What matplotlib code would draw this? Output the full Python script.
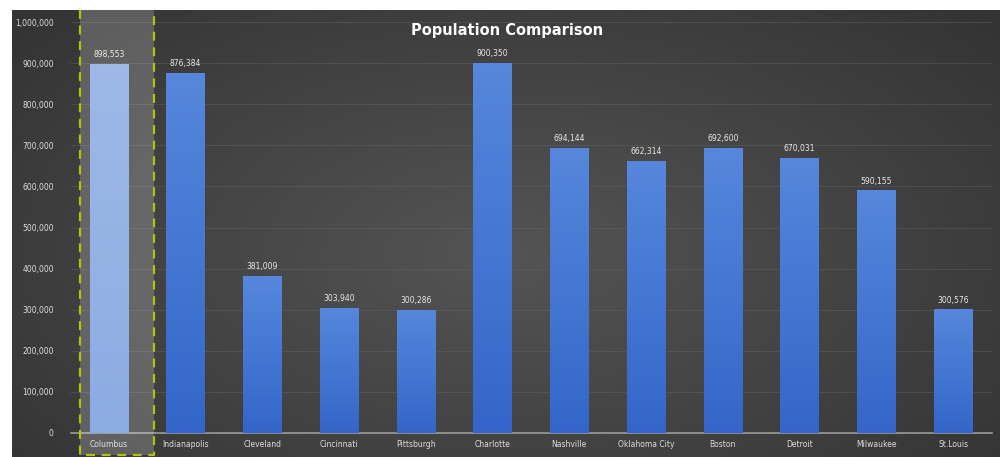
import matplotlib.pyplot as plt
import numpy as np
from matplotlib.colors import LinearSegmentedColormap
from matplotlib.lines import Line2D
from matplotlib.patches import Rectangle
from matplotlib.ticker import FuncFormatter

cities = ["Columbus", "Indianapolis", "Cleveland", "Cincinnati", "Pittsburgh", "Charlotte",
          "Nashville", "Oklahoma City", "Boston", "Detroit", "Milwaukee", "St.Louis"]
population = [898553, 876384, 381009, 303940, 300286, 900350,
              694144, 662314, 692600, 670031, 590155, 300576]
highlight = "Columbus"

W, H = 1008, 457
fig = plt.figure(figsize=(W / 100, H / 100), dpi=100)
fig.patch.set_facecolor("white")

# dark radial gradient behind the chart
bg = fig.add_axes([12 / W, 0, (1000 - 12) / W, (H - 10) / H])
yy, xx = np.mgrid[0:1:200j, 0:1:400j]
r = np.sqrt(((xx - 0.5) * 1.2) ** 2 + ((yy - 0.55) * 1.0) ** 2)
g = np.clip(0.33 - 0.16 * r, 0, 1)
bg.imshow(np.dstack([g, g, g]), aspect="auto", extent=[0, 1, 0, 1])
bg.set_axis_off()

ax = fig.add_axes([70.5 / W, 24 / H, 921 / W, 411 / H])
ax.set_facecolor("none")
x = np.arange(len(cities))
bars = ax.bar(x, population, width=0.5, color="none", zorder=3)

blue = LinearSegmentedColormap.from_list("blue", ["#3466c9", "#5687dc"])
light = LinearSegmentedColormap.from_list("light", ["#6f98dc", "#86a8e2"])
grad = np.linspace(0, 1, 100).reshape(-1, 1)
for c, b, v in zip(cities, bars, population):
    x0 = b.get_x()
    im = ax.imshow(grad, cmap=light if c == highlight else blue, origin="lower",
                   aspect="auto", extent=[x0, x0 + b.get_width(), 0, v], zorder=3)
    im.set_clip_path(b)
    ax.text(x0 + b.get_width() / 2, v + 12000, f"{v:,}", ha="center", va="bottom",
            fontsize=5.5, color="#e8e8e8", zorder=4)

ax.set_xlim(-0.5, len(cities) - 0.5)
ax.set_ylim(0, 1000000)
ax.set_yticks(np.arange(0, 1000001, 100000))
ax.yaxis.set_major_formatter(FuncFormatter(lambda v, p: f"{int(v):,}"))
ax.set_xticks(x)
ax.set_xticklabels(cities)
ax.tick_params(axis="both", length=0, labelsize=5.5, colors="#dddddd")
ax.tick_params(axis="x", pad=5)
ax.tick_params(axis="y", pad=12)
ax.grid(axis="y", color="#666666", linewidth=0.6, alpha=0.5, zorder=0)
for s in ["top", "right", "left"]:
    ax.spines[s].set_visible(False)
ax.spines["bottom"].set_color("#9a9a9a")
ax.spines["bottom"].set_linewidth(1.2)

fig.text(507 / W, 1 - 31 / H, "Population Comparison", ha="center", va="center",
         fontsize=10.5, fontweight="bold", color="white")

# highlight box around the selected category
left, right, top, bottom = 80 / W, 154 / W, 1 - 10 / H, 2 / H
fig.patches.append(Rectangle((left, bottom), right - left, top - bottom,
                             transform=fig.transFigure, facecolor="white", alpha=0.2,
                             edgecolor="none", zorder=5))
fig.lines.append(Line2D([left, left, right, right], [top, bottom, bottom, top],
                        transform=fig.transFigure, color="#b3c20a", linewidth=1.6,
                        linestyle=(0, (4, 3)), zorder=6))

fig.savefig("out.png", dpi=100)
